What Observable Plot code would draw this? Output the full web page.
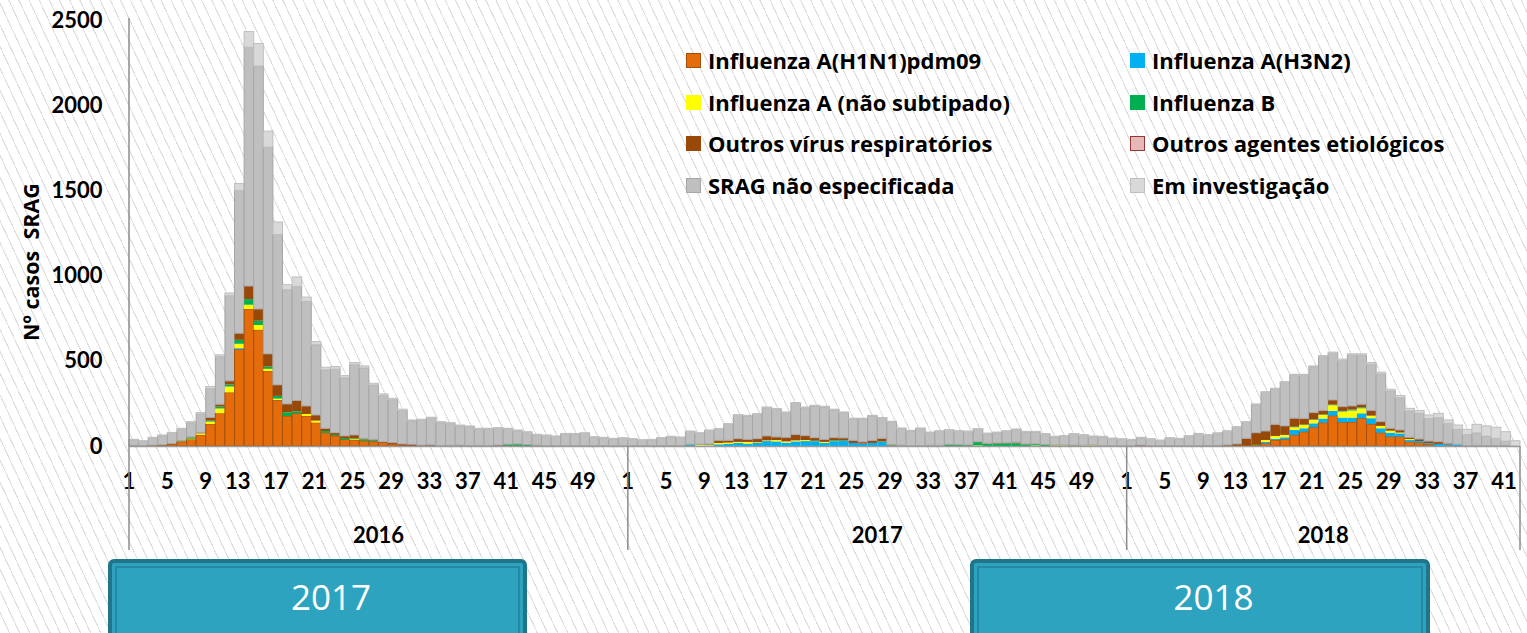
<!DOCTYPE html>
<html><head><meta charset="utf-8">
<script src="https://cdn.jsdelivr.net/npm/d3@7"></script>
<script src="https://cdn.jsdelivr.net/npm/@observablehq/plot@0.6"></script>
<style>
html,body{margin:0;padding:0;}
body{width:1527px;height:633px;overflow:hidden;position:relative;font-family:Lato,"Open Sans",sans-serif;
 background-color:#fff;
 background-image:repeating-linear-gradient(65deg, rgba(255,255,255,0) 0px, rgba(255,255,255,0) 8px, #e0e0e0 8px, #e0e0e0 9.2px);}
#chart{position:absolute;left:0;top:0;}
#chart svg{overflow:visible;}
.leg{position:absolute;height:22px;display:flex;align-items:center;font-family:"Open Sans",sans-serif;font-weight:bold;font-size:22px;color:#000;white-space:nowrap;}
.sw{width:15px;height:15px;box-sizing:border-box;margin-right:7px;display:inline-block;}
#ylab{position:absolute;left:30px;top:262px;transform:translate(-50%,-50%) rotate(-90deg);font-family:"Open Sans",sans-serif;font-weight:bold;font-size:21.5px;white-space:pre;color:#000;}
.banner{position:absolute;top:559px;height:90px;background:#2ea3c0;border:4px solid #1f758a;border-radius:6px 6px 0 0;box-sizing:border-box;}
.banner .inner{position:absolute;left:3px;right:3px;top:3px;bottom:3px;border:2px solid #2688a2;}
.banner .txt{position:absolute;left:27px;right:0;top:14px;text-align:center;color:#fff;font-family:"Open Sans",sans-serif;font-size:35px;line-height:40px;}
</style></head>
<body>
<div id="chart"></div>
<div id="ylab"></div>
<div id="legend"></div>
<div id="banners"></div>
<script>
// ---- categories ----
const years = ["2016", "2017", "2018"];
const weeksPerYear = [52, 52, 41];
const yTicks = [0, 500, 1000, 1500, 2000, 2500];
const yLabel = "Nº casos  SRAG";
const bannerLabels = ["2017", "2018"];

// ---- series names & colours ----
const seriesNames = ["Influenza A(H1N1)pdm09", "Influenza A(H3N2)", "Influenza A (não subtipado)", "Influenza B",
  "Outros vírus respiratórios", "Outros agentes etiológicos", "SRAG não especificada", "Em investigação"];
const seriesFill = ["#E46C0A", "#00B0F0", "#FFFF00", "#00B050", "#984807", "#E6B9B8", "#BFBFBF", "#D9D9D9"];
const seriesStroke = ["#A5500A", "none", "none", "none", "none", "#953735", "#A6A6A6", "#BFBFBF"];

// ---- series values (2016 w1-52, 2017 w1-52, 2018 w1-41) ----
const h1n1 = [
  2,1,2,4,10,25,39,65,129,192,314,568,804,682,440,270,176,192,176,137,78,59,39,35,31,25,20,12,4,2,1,1,0,0,0,0,0,0,0,0,0,0,0,0,0,0,0,0,0,0,0,0,
  0,0,0,0,0,0,0,0,0,0,0,0,0,0,0,0,0,0,0,0,0,0,0,0,0,0,0,0,0,0,0,0,0,0,0,0,0,0,0,0,0,0,0,0,0,0,0,0,0,0,0,0,
  0,0,0,0,0,0,0,0,0,0,0,0,4,8,16,35,39,65,84,110,137,178,139,141,163,129,78,55,55,25,20,10,0,0,0,0,0,0,0,0,0];
const h3n2 = [
  0,0,0,0,0,0,0,0,0,0,0,6,0,0,0,0,0,0,0,0,0,0,0,0,0,0,0,0,0,0,0,0,0,0,0,0,0,0,0,0,0,0,0,0,0,0,0,0,0,0,0,0,
  0,0,0,0,0,0,6,2,3,10,12,18,14,18,29,27,20,27,29,27,18,27,29,18,14,18,24,0,0,0,0,0,0,0,0,0,0,0,0,0,0,0,0,0,0,0,0,0,0,0,0,0,
  0,0,0,0,0,0,0,0,0,0,0,0,0,0,9,8,12,29,20,23,24,28,28,26,29,34,26,23,19,10,9,6,12,8,8,0,2,0,0,0,0];
const fluANs = [
  0,0,0,0,0,2,4,9,14,28,35,26,25,28,13,8,0,0,12,12,0,0,0,5,0,0,0,0,0,0,0,0,0,0,0,0,0,0,0,0,0,0,0,0,0,0,0,0,0,0,0,0,
  0,0,0,0,0,0,2,5,5,8,8,6,10,4,4,8,7,6,6,0,6,0,0,0,0,0,0,0,0,0,0,0,0,0,0,0,3,0,0,0,0,0,3,0,3,3,0,3,4,0,0,0,
  0,0,0,0,0,0,0,0,0,0,0,0,0,0,10,16,14,16,19,20,21,33,35,41,29,15,14,12,5,6,0,0,0,0,0,0,0,0,0,0,0];
const fluB = [
  0,0,0,0,0,2,8,0,6,11,12,23,33,25,13,16,22,12,0,0,10,6,8,5,8,6,0,0,0,0,0,0,0,0,2,0,2,0,0,8,10,6,3,0,0,0,0,0,0,0,0,0,
  0,0,0,0,0,0,0,0,0,0,0,0,0,0,0,0,0,0,0,4,0,6,4,0,0,0,3,4,3,0,0,2,4,8,6,6,20,14,16,16,16,10,8,6,2,2,0,0,0,0,0,0,
  0,0,0,0,0,0,0,0,0,0,0,0,0,3,0,0,0,3,3,3,3,4,4,6,6,0,0,0,0,0,0,0,0,0,0,0,0,0,0,0,0];
const outrosVirus = [
  2,2,3,3,4,3,2,6,18,14,21,39,75,69,75,65,49,63,47,33,16,13,12,20,6,8,5,8,8,5,4,3,3,4,3,3,2,3,3,3,3,2,2,2,2,2,2,2,2,2,1,1,
  2,2,2,2,3,3,3,3,4,15,13,19,15,21,26,18,24,34,26,18,15,16,14,15,10,15,18,4,2,2,2,2,0,2,2,0,2,2,2,3,6,2,2,2,2,2,2,2,2,2,2,2,
  2,3,2,2,2,2,2,3,3,4,6,12,41,67,53,68,53,50,35,40,23,27,25,21,18,30,25,14,15,10,12,13,13,8,2,2,2,2,2,2,0];
const outrosAgentes = [
  0,0,0,0,0,0,0,0,0,0,0,0,2,0,0,0,0,0,0,0,0,0,0,0,0,0,0,0,0,3,0,2,0,0,0,0,0,0,2,0,0,0,0,0,0,0,0,0,0,0,0,0,
  0,0,0,0,0,0,0,0,0,0,0,0,0,0,0,0,0,0,0,0,0,0,0,0,0,0,0,0,0,0,0,0,0,0,0,0,0,0,0,0,0,0,0,0,0,0,2,0,0,0,0,0,
  0,2,0,0,0,0,0,0,0,0,0,0,0,0,0,0,0,0,0,0,0,0,0,0,0,0,0,0,0,0,0,0,0,0,0,0,0,0,0,0,0];
const sragNE = [
  31,25,41,53,60,66,83,108,170,280,500,838,1401,1426,1213,882,670,670,614,412,343,373,341,413,413,319,272,252,196,137,146,157,134,127,112,110,95,96,98,88,76,71,60,59,53,68,68,72,49,45,40,44,
  38,32,34,44,51,47,74,65,79,66,95,137,137,143,166,163,145,184,164,186,190,163,149,126,135,143,118,133,97,86,100,74,82,82,78,78,73,56,60,67,74,70,69,61,46,50,65,58,49,51,41,37,
  33,42,37,29,43,39,54,66,59,69,79,97,93,164,226,207,254,252,254,268,316,274,271,298,288,272,280,219,190,155,152,133,142,117,88,66,73,56,43,27,0];
const emInvestigacao = [
  4,3,5,5,6,6,7,8,12,10,16,40,92,132,94,74,30,55,25,19,15,15,13,12,12,10,9,8,8,6,6,6,6,6,6,5,5,5,5,5,5,5,4,4,4,4,4,4,4,4,4,4,
  3,3,3,3,3,3,3,3,3,3,3,4,4,4,4,4,4,4,4,4,4,4,4,4,4,4,4,4,4,4,4,4,4,4,4,4,4,4,4,4,4,4,4,4,4,4,4,4,4,4,4,4,
  4,4,4,4,4,4,5,5,5,5,5,5,5,5,5,5,6,6,6,6,7,7,8,8,8,10,10,10,12,15,15,20,25,20,25,30,50,60,65,55,31];

const seriesValues = [h1n1, h3n2, fluANs, fluB, outrosVirus, outrosAgentes, sragNE, emInvestigacao];

// ---- build table ----
const keys = [];
years.forEach((yr, j) => { for (let w = 1; w <= weeksPerYear[j]; w++) keys.push(yr + "|" + w); });
const rows = [];
keys.forEach((k, i) => {
  seriesValues.forEach((vals, s) => {
    if (vals[i] > 0) rows.push({key: k, series: s, value: vals[i]});
  });
});
const tickKeys = keys.filter(k => (+k.split("|")[1] - 1) % 4 === 0);

const plot = Plot.plot({
  width: 1527, height: 633,
  marginLeft: 129, marginRight: 7, marginTop: 20, marginBottom: 187,
  style: {background: "transparent", fontFamily: "Lato, 'Open Sans', sans-serif", fontWeight: "bold", fontSize: "22px", color: "#000"},
  x: {type: "band", domain: keys, padding: 0, axis: null},
  y: {domain: [0, 2500], axis: null},
  color: {type: "identity"},
  marks: [
    Plot.barY(rows, {x: "key", y: "value", z: "series", order: null,
      fill: d => seriesFill[d.series], stroke: d => seriesStroke[d.series], strokeWidth: 1}),
    Plot.axisY({ticks: yTicks, tickFormat: d => String(d), tickSize: 0, tickPadding: 27, label: null, fontSize: 22, fontWeight: "bold"}),
    Plot.axisX({ticks: tickKeys, tickFormat: k => k.split("|")[1], tickSize: 0, tickPadding: 27, label: null,
      textAnchor: "end", dx: 1, fontSize: 22, fontWeight: "bold"}),
    Plot.ruleY([0], {stroke: "#9a9a9a", strokeWidth: 1.5})
  ]
});
document.getElementById("chart").appendChild(plot);

// separators, y axis line and year labels via the plot's own scales
const xsc = plot.scale("x"), ysc = plot.scale("y");
const bx = xsc.apply ? (k => xsc.apply(k)) : d3.scaleBand(xsc.domain, xsc.range).padding(0);
const bw = xsc.bandwidth;
const yy = ysc.apply ? (v => ysc.apply(v)) : d3.scaleLinear(ysc.domain, ysc.range);
const svg = d3.select(plot);
const g = svg.append("g");
const y0 = yy(0), yTop = yy(2500);
g.append("line").attr("x1", bx(keys[0])).attr("x2", bx(keys[0])).attr("y1", yTop - 2).attr("y2", y0)
  .attr("stroke", "#8c8c8c").attr("stroke-width", 1.5);
const bounds = [];
years.forEach(yr => {
  const ks = keys.filter(k => k.startsWith(yr + "|"));
  bounds.push({yr, x0: bx(ks[0]), x1: bx(ks[ks.length - 1]) + bw});
});
const sepX = [bounds[0].x0, ...bounds.map(b => b.x1)];
sepX.forEach(x => g.append("line").attr("x1", x).attr("x2", x).attr("y1", y0).attr("y2", y0 + 104)
  .attr("stroke", "#8c8c8c").attr("stroke-width", 1.5));
bounds.forEach(b => g.append("text").attr("x", (b.x0 + b.x1) / 2).attr("y", y0 + 97)
  .attr("text-anchor", "middle").attr("font-size", 22).attr("font-weight", "bold").text(b.yr));

// y label
document.getElementById("ylab").textContent = yLabel;

// legend
const leg = document.getElementById("legend");
const colLeft = [686, 1130], rowTop = [49, 91, 132, 174];
seriesNames.forEach((name, i) => {
  const d = document.createElement("div");
  d.className = "leg";
  d.style.left = colLeft[i % 2] + "px";
  d.style.top = rowTop[Math.floor(i / 2)] + "px";
  const sw = document.createElement("span");
  sw.className = "sw";
  sw.style.background = seriesFill[i];
  if (seriesStroke[i] !== "none") sw.style.border = "1.5px solid " + seriesStroke[i];
  d.appendChild(sw);
  d.appendChild(document.createTextNode(name));
  leg.appendChild(d);
});

// banners
const bannerPos = [[108, 419], [970, 460]];
const bn = document.getElementById("banners");
bannerLabels.forEach((t, i) => {
  const d = document.createElement("div");
  d.className = "banner";
  d.style.left = bannerPos[i][0] + "px";
  d.style.width = bannerPos[i][1] + "px";
  d.innerHTML = '<div class="inner"></div><div class="txt"></div>';
  d.querySelector(".txt").textContent = t;
  bn.appendChild(d);
});
</script>
</body></html>
